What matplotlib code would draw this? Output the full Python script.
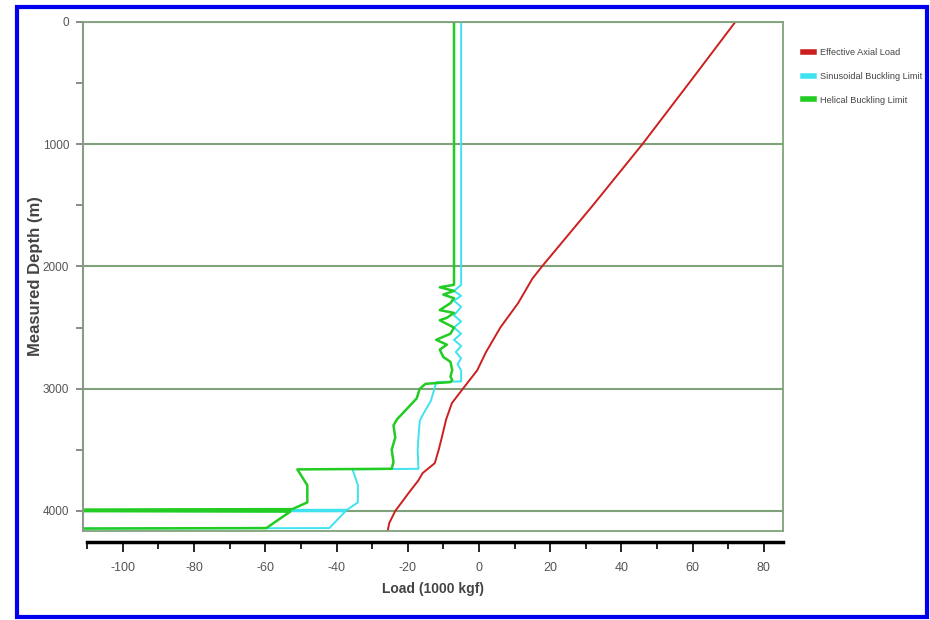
import matplotlib
matplotlib.use("Agg")
import matplotlib.pyplot as plt
from matplotlib.lines import Line2D
from matplotlib.patches import Rectangle

plt.rcParams["font.family"] = ["Liberation Sans", "DejaVu Sans"]
plt.rcParams["axes.unicode_minus"] = False

# Effective axial load (1000 kgf) vs measured depth (m)
axial_depth = [0, 500, 1000, 1500, 2000, 2100, 2300, 2500, 2700, 2850, 3000,
               3118, 3250, 3396, 3500, 3609, 3690, 3750, 3840, 4000, 4100, 4160]
axial_load = [72, 59, 45.9, 32, 17.7, 15, 11, 6, 2, -0.5, -4.5,
              -7.6, -9.2, -10.4, -11.3, -12.4, -15.8, -17, -19.4, -23.5, -25.2, -25.6]

# Sinusoidal buckling limit
sin_depth = [0, 2150, 2200, 2240, 2280, 2330, 2400, 2450, 2500, 2550, 2600,
             2650, 2700, 2750, 2800, 2850, 2940, 2946, 3000, 3100, 3200, 3260,
             3400, 3500, 3655, 3660, 3790, 3930, 3990, 3993, 4000, 4003, 4140,
             4145, 4160]
sin_load = [-5, -5, -7, -5, -7, -5, -7, -5, -7, -5, -7,
            -5, -6.5, -5, -6, -5, -5, -12, -12.5, -13.5, -15.5, -16.6,
            -17, -17.2, -17, -35.5, -34, -34, -37, -130, -130, -37.5, -42,
            -130, -130]

# Helical buckling limit
hel_depth = [0, 2150, 2170, 2200, 2230, 2260, 2300, 2357, 2380, 2420, 2440,
             2500, 2550, 2600, 2640, 2680, 2741, 2780, 2848, 2900, 2930, 2946,
             2960, 3000, 3080, 3250, 3300, 3400, 3500, 3600, 3655, 3660, 3790,
             3930, 3985, 3990, 4000, 4005, 4140, 4145, 4160]
hel_load = [-7, -7, -11, -7, -10, -7, -8, -11, -7, -9, -11,
            -7, -8, -12, -9, -11, -10, -8, -7.5, -8, -7.5, -8,
            -15, -16.6, -17.5, -23, -24, -23.5, -24.5, -24, -24.5, -51, -48.2,
            -48.2, -52.4, -130, -130, -53, -59.7, -130, -130]

x_major = list(range(-100, 81, 20))
x_minor = list(range(-110, 81, 10))
y_major = [0, 1000, 2000, 3000, 4000]
y_minor = [500, 1500, 2500, 3500]

grid_green = "#7fa27a"
red = "#cc1f1f"
cyan = "#3fe3f0"
green = "#22cc22"

fig = plt.figure(figsize=(9.3, 6.2), dpi=100)
ax = fig.add_axes([83 / 930, 1 - 531 / 620, 700 / 930, 509 / 620])

ax.plot(axial_load, axial_depth, color=red, lw=1.4, label="Effective Axial Load")
ax.plot(sin_load, sin_depth, color=cyan, lw=1.4, label="Sinusoidal Buckling Limit")
ax.plot(hel_load, hel_depth, color=green, lw=1.8, label="Helical Buckling Limit")

ax.set_xlim(-111.2, 85.4)
ax.set_ylim(4164, 0)

ax.set_xticks(x_major)
ax.set_xticks(x_minor, minor=True)
ax.set_yticks(y_major)
ax.set_yticks(y_minor, minor=True)

ax.yaxis.grid(True, which="major", color=grid_green, lw=1.5)
ax.set_axisbelow(True)

for side in ["top", "right"]:
    ax.spines[side].set_color(grid_green)
    ax.spines[side].set_linewidth(1.3)
ax.spines["left"].set_color("#8c9a8c")
ax.spines["left"].set_linewidth(1.5)
ax.spines["bottom"].set_position(("outward", 8))
ax.spines["bottom"].set_bounds(-110, 85.4)
ax.spines["bottom"].set_color("black")
ax.spines["bottom"].set_linewidth(2.5)
ax.axhline(4164, color=grid_green, lw=1.3, clip_on=False)

ax.tick_params(axis="x", which="both", direction="out", color="black",
               labelcolor="#555555", labelsize=9, pad=7)
ax.tick_params(axis="x", which="major", length=7, width=1.2)
ax.tick_params(axis="x", which="minor", length=5, width=1.2)
ax.tick_params(axis="y", which="both", direction="out", color="#777777",
               labelcolor="#555555", labelsize=8.5, length=5, width=1.2, pad=5)

ax.set_xlabel("Load (1000 kgf)", fontsize=10, fontweight="bold",
              color="#444444", labelpad=6)
ax.set_ylabel("Measured Depth (m)", fontsize=12, fontweight="bold",
              color="#444444")
ax.yaxis.set_label_coords((43 - 83) / 700, 0.5)

handles = [Line2D([], [], color=c, lw=4) for c in (red, cyan, green)]
labels = ["Effective Axial Load", "Sinusoidal Buckling Limit", "Helical Buckling Limit"]
fig.legend(handles, labels, loc="upper left", bbox_to_anchor=(795 / 930, 1 - 40 / 620),
           frameon=False, fontsize=6.6, handlelength=1.2, handletextpad=0.6,
           labelspacing=1.6, labelcolor="#444444")

# blue outer frame
fig.patches.append(Rectangle((17 / 930, 3 / 620), 910 / 930, 610 / 620,
                             transform=fig.transFigure, fill=False,
                             edgecolor="#0000ee", lw=3))

fig.savefig("out.png", dpi=100)
